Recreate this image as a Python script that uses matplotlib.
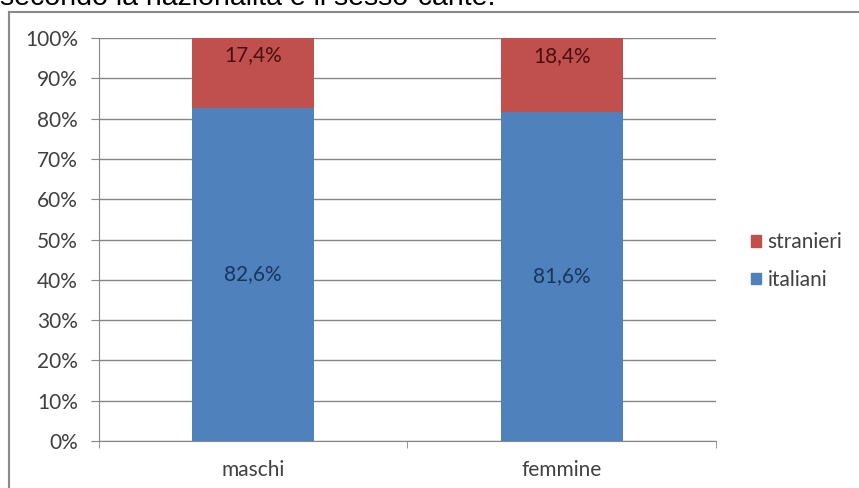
import matplotlib.pyplot as plt
from matplotlib.lines import Line2D
from matplotlib.patches import Patch

# dati
categorie = ['maschi', 'femmine']
italiani = [82.6, 81.6]
stranieri = [17.4, 18.4]
etichette_it = ['82,6%', '81,6%']
etichette_st = ['17,4%', '18,4%']
yticks = list(range(0, 101, 10))

blu = '#4F81BD'
rosso = '#C0504D'
grigio = '#868686'
testo = '#404040'
fs = 15

plt.rcParams['font.family'] = ['Lato', 'DejaVu Sans']

fig = plt.figure(figsize=(8.59, 4.88), dpi=100)
ax = fig.add_axes([0.1152, 0.0963, 0.7183, 0.8258])

x = list(range(len(categorie)))
larghezza = 0.395
ax.bar(x, italiani, width=larghezza, color=blu, zorder=3, label='italiani')
ax.bar(x, stranieri, width=larghezza, bottom=italiani, color=rosso, zorder=3,
       label='stranieri')

for i in x:
    ax.text(i, italiani[i] / 2, etichette_it[i], ha='center', va='center',
            fontsize=fs, color='#17365D', zorder=4)
    ax.text(i, italiani[i] + stranieri[i] * 0.76, etichette_st[i], ha='center',
            va='center', fontsize=fs, color='#4A0F0E', zorder=4)

ax.set_xlim(-0.5, 1.5)
ax.set_ylim(0, 100)
ax.set_yticks(yticks)
ax.set_yticklabels(['{}%'.format(v) for v in yticks])
ax.yaxis.grid(True, color=grigio, lw=1, zorder=0)
ax.set_xticks(x)
ax.set_xticklabels(categorie)
ax.set_xticks([-0.5, 0.5, 1.5], minor=True)
ax.tick_params(axis='x', which='major', length=0, pad=14, labelsize=fs,
               colors=testo)
ax.tick_params(axis='x', which='minor', length=5, color=grigio, direction='out')
ax.tick_params(axis='y', length=6, color=grigio, labelsize=fs, pad=9,
               labelcolor=testo)
for s in ['top', 'right']:
    ax.spines[s].set_visible(False)
for s in ['left', 'bottom']:
    ax.spines[s].set_color(grigio)

maniglie = [Patch(color=rosso, label='stranieri'), Patch(color=blu, label='italiani')]
fig.legend(handles=maniglie, loc='center left', bbox_to_anchor=(0.874, 0.465),
           frameon=False, fontsize=fs, handlelength=0.5, handleheight=0.5,
           handletextpad=0.3, labelspacing=0.85, labelcolor=testo,
           borderpad=0, borderaxespad=0)

# cornice del grafico
fig.add_artist(Line2D([9 / 859, 9 / 859], [0, 1 - 12 / 488], color='#8A8A8A',
                      lw=1.5, transform=fig.transFigure))
fig.add_artist(Line2D([9 / 859, 1], [1 - 12 / 488, 1 - 12 / 488], color='#8A8A8A',
                      lw=1.5, transform=fig.transFigure))

# titolo tagliato in alto
fig.text(0.0, 1 - 5 / 488, 'secondo la nazionalità e il sesso-cante.',
         fontsize=20.5, family='Liberation Sans', va='baseline', ha='left')

fig.savefig('out.png', dpi=100)
